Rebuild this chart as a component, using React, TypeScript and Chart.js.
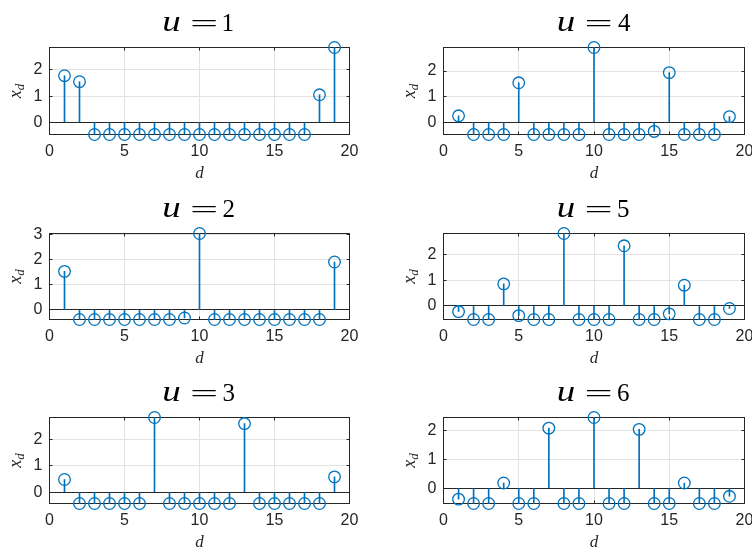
import { useEffect, useRef } from 'react';
import { Chart, registerables } from 'chart.js';

Chart.register(...registerables);

// Sample index d shared by every panel
const dIndex = [1, 2, 3, 4, 5, 6, 7, 8, 9, 10, 11, 12, 13, 14, 15, 16, 17, 18, 19];
const xTicks = [0, 5, 10, 15, 20];

// x_d values for each u
const xU1 = [1.78, 1.55, -0.47, -0.47, -0.47, -0.47, -0.47, -0.47, -0.47, -0.47, -0.47, -0.47, -0.47, -0.47, -0.47, -0.47, -0.47, 1.05, 2.86];
const xU2 = [1.53, -0.38, -0.38, -0.38, -0.38, -0.38, -0.38, -0.38, -0.32, 3.03, -0.38, -0.38, -0.38, -0.38, -0.38, -0.38, -0.38, -0.38, 1.90];
const xU3 = [0.48, -0.43, -0.43, -0.43, -0.43, -0.43, 2.83, -0.43, -0.43, -0.43, -0.43, -0.43, 2.60, -0.43, -0.43, -0.43, -0.43, -0.43, 0.58];
const xU4 = [0.25, -0.48, -0.48, -0.48, 1.54, -0.48, -0.48, -0.48, -0.48, 2.92, -0.48, -0.48, -0.48, -0.36, 1.94, -0.48, -0.48, -0.48, 0.22];
const xU5 = [-0.22, -0.53, -0.53, 0.86, -0.38, -0.53, -0.53, 2.83, -0.53, -0.53, -0.53, 2.35, -0.53, -0.53, -0.31, 0.81, -0.53, -0.53, -0.10];
const xU6 = [-0.38, -0.53, -0.53, 0.18, -0.53, -0.53, 2.08, -0.53, -0.53, 2.45, -0.53, -0.53, 2.04, -0.53, -0.53, 0.18, -0.53, -0.53, -0.28];

const yTicks3 = [0, 1, 2];
const yTicks4 = [0, 1, 2, 3];

// Subplots in row-major order (2 columns x 3 rows)
const uLabels = ['1', '4', '2', '5', '3', '6'];
const seriesList = [xU1, xU4, xU2, xU5, xU3, xU6];
const yTickList = [yTicks3, yTicks3, yTicks4, yTicks3, yTicks3, yTicks3];

// Layout of each subplot inside its 376x184 cell
const CELL_W = 376;
const CELL_H = 184;
const COL_LEFT = [49.5, 67.5];
const COL_RIGHT = [349.5, 368.5];
const ROW_TOP = [47.5, 49.5, 49.5];
const ROW_BOTTOM = [134.5, 135.5, 135.5];

const BLUE = '#0072BD';
const AXIS = '#262626';
const GRID = '#e3e3e3';
const SANS = "'Liberation Sans', Arial, Helvetica, sans-serif";
const SERIF = "'Liberation Serif', 'Times New Roman', serif";

function inkText(
  ctx: CanvasRenderingContext2D,
  text: string,
  font: string,
  left: number,
  baseline: number,
  width?: number
) {
  ctx.font = font;
  ctx.textAlign = 'left';
  ctx.textBaseline = 'alphabetic';
  const m = ctx.measureText(text);
  const inkW = m.actualBoundingBoxLeft + m.actualBoundingBoxRight;
  const sx = width ? width / inkW : 1;
  ctx.save();
  ctx.translate(left, baseline);
  ctx.scale(sx, 1);
  ctx.fillText(text, m.actualBoundingBoxLeft, 0);
  ctx.restore();
}

function makeDecor(u: string) {
  return {
    id: 'stemDecor',
    beforeDatasetsDraw(chart: any) {
      const { ctx, chartArea: a, scales } = chart;
      ctx.save();
      ctx.strokeStyle = AXIS;
      ctx.lineWidth = 1;
      ctx.strokeRect(a.left, a.top, a.right - a.left, a.bottom - a.top);
      const len = 3;
      ctx.beginPath();
      for (const v of xTicks) {
        const x = Math.floor(scales.x.getPixelForValue(v)) + 0.5;
        ctx.moveTo(x, a.bottom);
        ctx.lineTo(x, a.bottom - len);
        ctx.moveTo(x, a.top);
        ctx.lineTo(x, a.top + len);
      }
      for (const t of scales.y.ticks) {
        const y = Math.floor(scales.y.getPixelForValue(t.value)) + 0.5;
        ctx.moveTo(a.left, y);
        ctx.lineTo(a.left + len, y);
        ctx.moveTo(a.right, y);
        ctx.lineTo(a.right - len, y);
      }
      ctx.stroke();
      ctx.restore();
    },
    afterDraw(chart: any) {
      const { ctx, chartArea: a } = chart;
      const cx = (a.left + a.right) / 2;
      const cy = (a.top + a.bottom) / 2;
      ctx.save();
      ctx.fillStyle = '#000000';

      // Title: u = n
      const base = a.top - 16.5;
      inkText(ctx, 'u', `italic 30px ${SERIF}`, cx - 36, base, 16);
      ctx.font = `26px ${SERIF}`;
      const em = ctx.measureText('=');
      const eqBase = a.top - 24 + (em.actualBoundingBoxAscent - em.actualBoundingBoxDescent) / 2;
      inkText(ctx, '=', `26px ${SERIF}`, cx - 7.5, eqBase, 25);
      inkText(ctx, u, `25px ${SERIF}`, cx + 24, base);

      // x label: d
      ctx.fillStyle = AXIS;
      ctx.font = `italic 17px ${SERIF}`;
      ctx.textAlign = 'center';
      ctx.textBaseline = 'alphabetic';
      ctx.fillText('d', cx, a.bottom + 43);

      // y label: x_d (rotated)
      ctx.save();
      ctx.translate(a.left - 29, cy);
      ctx.rotate(-Math.PI / 2);
      ctx.font = `italic 18px ${SERIF}`;
      const wx = ctx.measureText('x').width;
      ctx.font = `italic 13px ${SERIF}`;
      const wd = ctx.measureText('d').width;
      const start = -(wx + wd) / 2;
      ctx.textAlign = 'left';
      ctx.font = `italic 18px ${SERIF}`;
      ctx.fillText('x', start, 0);
      ctx.font = `italic 13px ${SERIF}`;
      ctx.fillText('d', start + wx, 3.5);
      ctx.restore();

      ctx.restore();
    },
  };
}

function StemPanel({ index }: { index: number }) {
  const ref = useRef<HTMLCanvasElement>(null);
  const col = index % 2;
  const row = Math.floor(index / 2);

  useEffect(() => {
    const canvas = ref.current;
    if (!canvas) return;
    const values = seriesList[index];
    const yTicks = yTickList[index];
    const points = dIndex.map((d, i) => ({ x: d, y: values[i] }));
    const yMin = Math.min(...values);
    const yMax = Math.max(...values);

    const chart = new Chart(canvas, {
      type: 'bar',
      data: {
        datasets: [
          {
            type: 'scatter',
            data: points,
            pointStyle: 'circle',
            pointRadius: 5.8,
            borderWidth: 1.3,
            borderColor: BLUE,
            backgroundColor: 'rgba(0,0,0,0)',
            clip: false,
            order: 0,
          } as any,
          {
            type: 'bar',
            data: points,
            backgroundColor: BLUE,
            barThickness: 1,
            clip: false,
            order: 1,
          } as any,
        ],
      },
      options: {
        animation: false,
        responsive: false,
        devicePixelRatio: 1,
        events: [],
        layout: {
          padding: {
            left: 0,
            top: ROW_TOP[row],
            right: CELL_W - COL_RIGHT[col],
            bottom: 0,
          },
        },
        plugins: {
          legend: { display: false },
          tooltip: { enabled: false },
          title: { display: false },
        },
        scales: {
          x: {
            type: 'linear',
            min: 0,
            max: 20,
            offset: false,
            border: { display: false },
            grid: { color: GRID, lineWidth: 1, drawTicks: false, offset: false },
            ticks: {
              autoSkip: false,
              maxRotation: 0,
              padding: 7,
              color: AXIS,
              font: { family: SANS, size: 16 },
              callback: (v: any) => String(v),
            },
            afterBuildTicks: (scale: any) => {
              scale.ticks = xTicks.map((v) => ({ value: v }));
            },
            afterFit: (scale: any) => {
              scale.height = CELL_H - ROW_BOTTOM[row];
              scale.paddingLeft = 0;
              scale.paddingRight = 0;
            },
          },
          y: {
            type: 'linear',
            min: yMin,
            max: yMax,
            border: { display: false },
            grid: {
              lineWidth: 1,
              drawTicks: false,
              color: (c: any) => (c.tick && c.tick.value === 0 ? AXIS : GRID),
            },
            ticks: {
              padding: 7,
              color: AXIS,
              font: { family: SANS, size: 16 },
              callback: (v: any) => String(v),
            },
            afterBuildTicks: (scale: any) => {
              scale.ticks = yTicks.map((v) => ({ value: v }));
            },
            afterFit: (scale: any) => {
              scale.width = COL_LEFT[col];
              scale.paddingTop = 0;
              scale.paddingBottom = 0;
            },
          },
        },
      } as any,
      plugins: [makeDecor(uLabels[index])],
    });
    return () => chart.destroy();
  }, [index, col, row]);

  return (
    <canvas
      ref={ref}
      width={CELL_W}
      height={CELL_H}
      style={{ position: 'absolute', left: col * CELL_W, top: row * CELL_H, width: CELL_W, height: CELL_H }}
    />
  );
}

export default function App() {
  return (
    <div style={{ position: 'absolute', left: 0, top: 0, width: 752, height: 552, background: '#ffffff' }}>
      {uLabels.map((_, i) => (
        <StemPanel key={i} index={i} />
      ))}
    </div>
  );
}
